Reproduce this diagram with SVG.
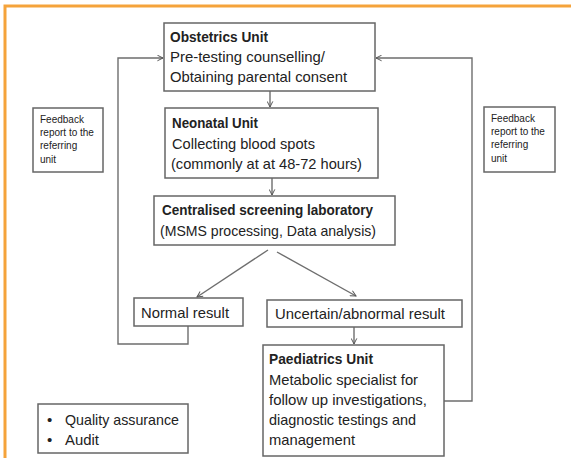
<svg xmlns="http://www.w3.org/2000/svg" width="571" height="458" viewBox="0 0 571 458">
<defs>
<marker id="arr" viewBox="0 0 10 10" refX="9" refY="5" markerWidth="7" markerHeight="7" markerUnits="userSpaceOnUse" orient="auto">
<polyline points="1,1 9,5 1,9" fill="none" stroke="#555" stroke-width="1.4"/>
</marker>
<style>
.box{fill:#fff;stroke:#666;stroke-width:1.5}
.t{font-family:"Liberation Sans",Arial,sans-serif;font-size:15px;fill:#222}
.b{font-weight:bold}
.s{font-family:"Liberation Sans",Arial,sans-serif;font-size:10px;fill:#222}
.c{fill:none;stroke:#6e6e6e;stroke-width:1.4}
</style>
</defs>
<rect width="571" height="458" fill="#fff"/>
<g id="frame" fill="none" stroke="#f5a33b" stroke-width="3">
<path d="M5,458 V6 H571"/>
</g>
<g id="connectors">
<line class="c" x1="270" y1="91" x2="270" y2="107" marker-end="url(#arr)"/>
<line class="c" x1="272" y1="178" x2="272" y2="195" marker-end="url(#arr)"/>
<line class="c" x1="268" y1="250" x2="197" y2="297" marker-end="url(#arr)"/>
<line class="c" x1="277" y1="252" x2="356" y2="296" marker-end="url(#arr)"/>
<line class="c" x1="354" y1="327" x2="354" y2="344" marker-end="url(#arr)"/>
<polyline class="c" points="188,326 188,344 118,344 118,58 163,58" marker-end="url(#arr)"/>
<polyline class="c" points="444,401 472,401 472,58 376,58" marker-end="url(#arr)"/>
</g>
<g id="obstetrics">
<rect class="box" x="164" y="23" width="211" height="68"/>
<text class="t b" x="170" y="42" textLength="98" lengthAdjust="spacingAndGlyphs">Obstetrics Unit</text>
<text class="t" x="170" y="62" textLength="155" lengthAdjust="spacingAndGlyphs">Pre-testing counselling/</text>
<text class="t" x="170" y="82" textLength="177" lengthAdjust="spacingAndGlyphs">Obtaining parental consent</text>
</g>
<g id="neonatal">
<rect class="box" x="165" y="108" width="213" height="70"/>
<text class="t b" x="172" y="128" textLength="86" lengthAdjust="spacingAndGlyphs">Neonatal Unit</text>
<text class="t" x="172" y="149" textLength="143" lengthAdjust="spacingAndGlyphs">Collecting blood spots</text>
<text class="t" x="171" y="169" textLength="191" lengthAdjust="spacingAndGlyphs">(commonly at at 48-72 hours)</text>
</g>
<g id="lab">
<rect class="box" x="154" y="196" width="241" height="49"/>
<text class="t b" x="162" y="215" textLength="211" lengthAdjust="spacingAndGlyphs">Centralised screening laboratory</text>
<text class="t" x="160" y="236" textLength="216" lengthAdjust="spacingAndGlyphs">(MSMS processing, Data analysis)</text>
</g>
<g id="normal">
<rect class="box" x="134" y="298" width="109" height="28"/>
<text class="t" x="141" y="318" textLength="88" lengthAdjust="spacingAndGlyphs">Normal result</text>
</g>
<g id="uncertain">
<rect class="box" x="267" y="300" width="195" height="27"/>
<text class="t" x="275" y="319" textLength="170" lengthAdjust="spacingAndGlyphs">Uncertain/abnormal result</text>
</g>
<g id="paediatrics">
<rect class="box" x="263" y="345" width="181" height="111"/>
<text class="t b" x="269" y="364" textLength="104" lengthAdjust="spacingAndGlyphs">Paediatrics Unit</text>
<text class="t" x="269" y="385" textLength="149" lengthAdjust="spacingAndGlyphs">Metabolic specialist for</text>
<text class="t" x="269" y="405" textLength="158" lengthAdjust="spacingAndGlyphs">follow up investigations,</text>
<text class="t" x="269" y="425" textLength="147" lengthAdjust="spacingAndGlyphs">diagnostic testings and</text>
<text class="t" x="269" y="445" textLength="86" lengthAdjust="spacingAndGlyphs">management</text>
</g>
<g id="feedback-left">
<rect class="box" x="33" y="108" width="70" height="64"/>
<text class="s" x="40" y="123">Feedback</text>
<text class="s" x="40" y="136">report to the</text>
<text class="s" x="40" y="149">referring</text>
<text class="s" x="40" y="163">unit</text>
</g>
<g id="feedback-right">
<rect class="box" x="484" y="107" width="71" height="65"/>
<text class="s" x="491" y="122">Feedback</text>
<text class="s" x="491" y="135">report to the</text>
<text class="s" x="491" y="148">referring</text>
<text class="s" x="491" y="162">unit</text>
</g>
<g id="quality">
<rect class="box" x="38" y="404" width="150" height="49"/>
<text class="t" x="47" y="425">•</text>
<text class="t" x="65" y="425" textLength="114" lengthAdjust="spacingAndGlyphs">Quality assurance</text>
<text class="t" x="47" y="445">•</text>
<text class="t" x="65" y="445" textLength="34" lengthAdjust="spacingAndGlyphs">Audit</text>
</g>
</svg>
